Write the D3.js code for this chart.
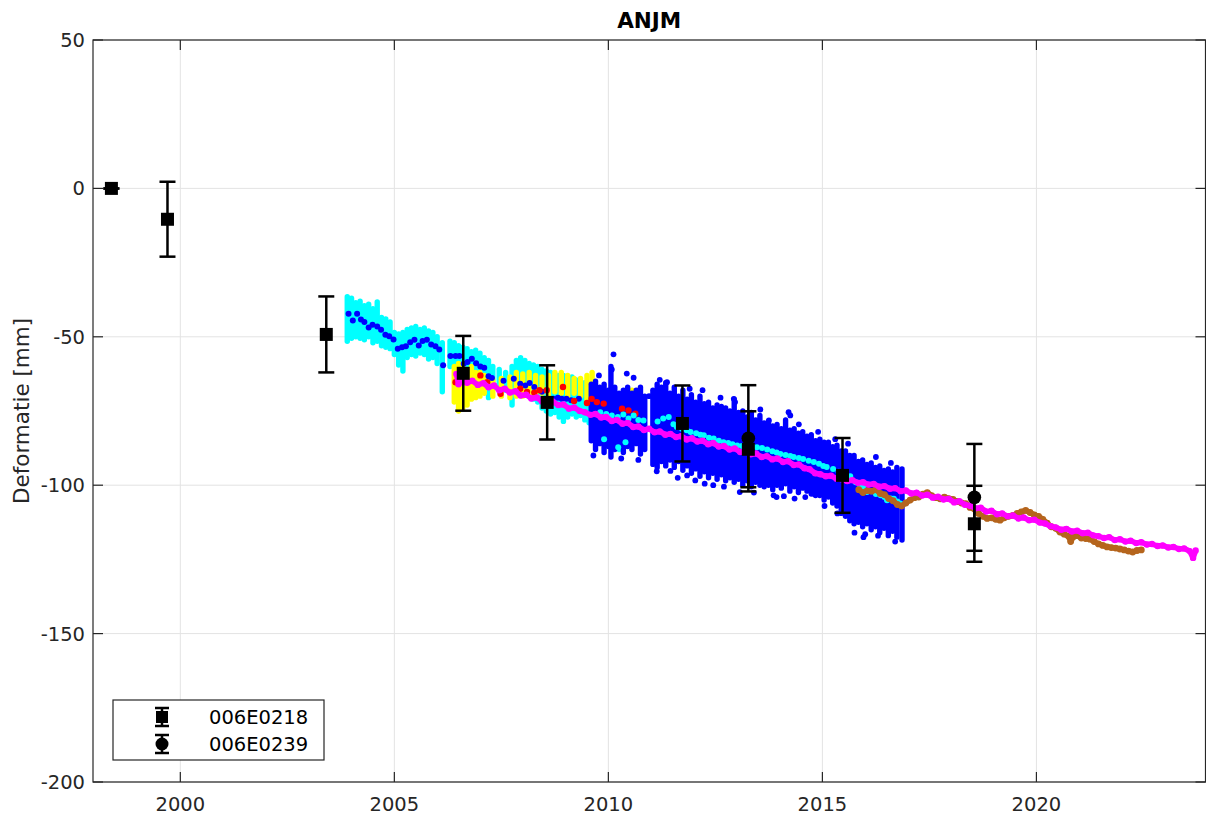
<!DOCTYPE html>
<html>
<head>
<meta charset="utf-8">
<script src="https://cdn.jsdelivr.net/npm/d3@7/dist/d3.min.js"></script>
<style>
  body { margin: 0; background: #fff; }
  text { font-family: "DejaVu Sans", sans-serif; }
</style>
</head>
<body>
<div id="chart"></div>
<script>
// Set the dimensions of the figure and the plot box
const width = 1206;
const height = 816;
const box = { left: 93, right: 1205.5, top: 40, bottom: 782 };

// Tick labels
const xTicks = [2000, 2005, 2010, 2015, 2020];
const yTicks = [50, 0, -50, -100, -150, -200];

// Levelling: 006E0218 (squares) and 006E0239 (circles) [year, mm, error]
const squares = [
  [1998.39, 0, 0], [1999.70, -10.4, 12.6], [2003.41, -49.2, 12.8], [2006.61, -62.3, 12.6],
  [2008.57, -72.1, 12.5], [2011.73, -79.2, 12.8], [2013.27, -87.9, 12.8], [2015.47, -96.7, 12.6],
  [2018.55, -113.0, 12.8]
];
const circles = [[2013.27, -84.2, 17.9], [2018.55, -104.1, 18.0]];
const legendNames = ["006E0218", "006E0239"];

// InSAR clouds, one column per acquisition [year, lowest, highest]
const cyanCols = [
  [2003.90, -51.5, -36.5], [2004.00, -50.5, -37], [2004.10, -50, -38.5], [2004.20, -50.5, -38],
  [2004.30, -51, -39.5], [2004.40, -50, -39], [2004.50, -52, -40.5], [2004.60, -51.5, -38.3],
  [2004.70, -53, -43.5], [2004.80, -53.5, -44], [2004.90, -54, -45], [2005.00, -56, -48.5],
  [2005.10, -59.5, -49], [2005.20, -61.5, -48.5], [2005.30, -57, -47.5], [2005.40, -56, -47],
  [2005.50, -56.5, -46.5], [2005.60, -55.5, -47.5], [2005.70, -56, -47], [2005.80, -57.5, -48],
  [2005.90, -57, -48.5], [2006.00, -59, -50], [2006.12, -68.5, -52],
  [2006.30, -60, -51.5], [2006.40, -60, -52], [2006.50, -61, -53], [2006.60, -62, -53.5],
  [2006.70, -63, -54], [2006.80, -62, -55], [2006.90, -63.5, -54.5], [2007.00, -64, -55.5],
  [2007.10, -65, -57], [2007.20, -70.5, -58], [2007.30, -66, -60], [2007.45, -67, -61],
  [2007.60, -68, -62], [2007.75, -73, -60], [2007.85, -69, -58], [2007.95, -69, -57],
  [2008.05, -68.5, -58], [2008.15, -70, -59], [2008.25, -71, -59.5], [2008.35, -72, -60],
  [2008.45, -74, -61], [2008.55, -75, -61.5], [2008.65, -76, -62], [2008.75, -75.5, -62.5],
  [2008.85, -77, -63], [2008.95, -78.5, -63], [2009.05, -77, -64], [2009.15, -76, -63.5],
  [2009.25, -77, -64.5], [2009.35, -76.5, -65], [2009.45, -78, -65.5], [2009.55, -79, -66],
  [2009.65, -80, -67], [2009.75, -82, -68], [2009.85, -83, -68.5], [2009.95, -84, -69],
  [2010.10, -86, -72], [2010.25, -88, -73], [2010.40, -87, -74]
];
const yellowCols = [
  [2006.40, -72, -60], [2006.50, -75, -59], [2006.60, -74, -60], [2006.70, -73, -61],
  [2006.80, -71, -60], [2006.90, -70.5, -62], [2007.00, -70, -62], [2007.10, -69, -63],
  [2007.30, -70, -64.5], [2007.50, -70, -64], [2007.70, -70.5, -63.5], [2007.85, -70, -62],
  [2008.00, -70, -62.5], [2008.15, -69.5, -62], [2008.30, -70, -63], [2008.45, -69, -63.5],
  [2008.60, -69.5, -63], [2008.75, -68.5, -62], [2008.90, -69, -62], [2009.05, -70, -63],
  [2009.20, -69, -64], [2009.35, -70, -64], [2009.50, -72, -63], [2009.62, -69, -62],
  [2010.30, -82.5, -69.5], [2010.45, -73, -68], [2010.55, -72, -68], [2010.70, -72, -68]
];
const blueCols = [
  [2009.60, -85, -66], [2009.70, -88, -65], [2009.80, -86, -67], [2009.90, -89, -66],
  [2010.00, -87, -68], [2010.06, -90.5, -60], [2010.15, -88, -67], [2010.25, -86, -69],
  [2010.35, -89, -68], [2010.45, -87, -67], [2010.55, -88, -69], [2010.65, -86, -68],
  [2010.75, -89.5, -67], [2010.85, -88, -70], [2011.04, -93, -68], [2011.14, -94, -66],
  [2011.24, -92, -67], [2011.34, -93.5, -65.5], [2011.44, -91.5, -69], [2011.54, -94, -67],
  [2011.64, -92, -70], [2011.74, -95, -68], [2011.84, -93.5, -71], [2011.94, -96, -69.5],
  [2012.04, -94.5, -72], [2012.14, -97, -70], [2012.24, -95.5, -72.5], [2012.34, -97.5, -72],
  [2012.44, -96, -74], [2012.54, -98, -73], [2012.64, -96.5, -73.5], [2012.74, -98.5, -74],
  [2012.84, -97.5, -75], [2012.94, -99, -71], [2013.04, -98, -75.5], [2013.14, -100, -75],
  [2013.24, -98.5, -77], [2013.34, -100.5, -75.5], [2013.44, -99, -78], [2013.54, -100, -76.5],
  [2013.64, -100.5, -79], [2013.74, -100, -78.5], [2013.84, -101.5, -80], [2013.94, -100, -79.5],
  [2014.04, -101, -81], [2014.14, -99.5, -78], [2014.24, -102, -81.5], [2014.34, -100.5, -81],
  [2014.44, -102.5, -82.5], [2014.54, -101, -82], [2014.64, -102, -83.5], [2014.74, -103, -83],
  [2014.84, -103.5, -85], [2014.94, -103.5, -84.5], [2015.04, -105, -85.5], [2015.14, -104, -85.5],
  [2015.24, -106, -87], [2015.34, -107, -86.5], [2015.44, -109.5, -88.5], [2015.54, -110.5, -88.5],
  [2015.64, -112, -90], [2015.74, -113, -90], [2015.84, -112.5, -92], [2015.94, -114, -91.5],
  [2016.04, -113, -93], [2016.14, -115, -92.5], [2016.24, -114, -94], [2016.34, -116, -93.5],
  [2016.44, -114.5, -95], [2016.54, -117, -94.5], [2016.64, -115.5, -95.5], [2016.74, -117.5, -94],
  [2016.86, -118.5, -94.5]
];

// Single points [year, mm]
const blueOutliers = [
  [2010.12, -55.9], [2010.08, -61.0], [2010.43, -62.4], [2010.59, -63.8], [2009.78, -63.0],
  [2011.37, -65.3], [2011.20, -64.5], [2011.13, -95.3], [2011.45, -95.2], [2011.84, -96.7],
  [2012.03, -98.4], [2012.93, -70.9], [2012.96, -72.0], [2013.86, -103.4], [2013.75, -78.2],
  [2014.21, -75.4], [2014.25, -76.5], [2014.80, -102.9], [2014.60, -104.0], [2015.96, -117.5],
  [2016.00, -116.5], [2013.93, -104.0], [2013.07, -102.3], [2014.10, -103.7], [2012.45, -100.0],
  [2009.65, -90.0], [2010.30, -91.0], [2010.70, -91.5], [2011.62, -97.5], [2012.25, -99.5],
  [2012.70, -100.5], [2013.40, -102.5], [2011.90, -67.5], [2012.20, -68.0], [2012.62, -70.5],
  [2013.55, -74.5], [2014.45, -79.5], [2014.90, -82.0], [2015.30, -84.5], [2015.60, -86.0],
  [2016.25, -90.5], [2016.60, -92.5], [2015.75, -116.0], [2016.30, -117.0], [2016.70, -119.0],
  [2014.35, -104.5], [2015.05, -107.0], [2015.35, -109.5], [2010.95, -70.0]
];
const blueDots = [
  [2003.93, -42.2], [2004.03, -44.5], [2004.13, -42.2], [2004.22, -44.2], [2004.30, -45.0],
  [2004.40, -46.9], [2004.49, -45.9], [2004.60, -46.5], [2004.69, -47.6], [2004.79, -49.3],
  [2004.88, -49.8], [2004.98, -50.9], [2005.08, -54.0], [2005.18, -53.5], [2005.27, -53.2],
  [2005.37, -51.8], [2005.47, -51.0], [2005.57, -52.9], [2005.66, -51.4], [2005.76, -51.0],
  [2005.86, -52.6], [2005.96, -53.2], [2006.05, -54.3], [2006.14, -59.6], [2006.31, -56.5],
  [2006.43, -56.5], [2006.52, -56.5], [2006.62, -59.1], [2006.71, -58.5], [2006.81, -57.4],
  [2006.91, -58.9], [2007.01, -60.0], [2007.10, -60.4], [2007.20, -63.3], [2007.28, -63.9],
  [2007.55, -64.8], [2007.79, -64.1], [2007.94, -65.8], [2008.06, -66.4], [2008.16, -65.6],
  [2008.27, -66.9], [2008.45, -68.5], [2008.72, -70.9], [2008.82, -70.5], [2008.91, -70.9],
  [2009.02, -70.9], [2009.13, -71.4], [2009.31, -70.9]
];
const redDots = [
  [2006.43, -65.3], [2006.55, -63.5], [2007.01, -63.0], [2007.17, -65.3], [2007.48, -69.2],
  [2007.94, -67.5], [2008.10, -68.6], [2008.27, -68.8], [2008.39, -68.0], [2008.56, -68.0],
  [2008.94, -66.9], [2009.20, -71.6], [2009.50, -72.3], [2009.61, -70.9], [2009.73, -72.0],
  [2009.89, -72.5], [2010.32, -74.2], [2010.47, -74.8], [2010.63, -75.9]
];
const cyanDots = [
  [2009.81, -75.4], [2009.95, -76.0], [2010.08, -76.5], [2010.22, -77.0], [2010.35, -76.2],
  [2010.47, -77.5], [2010.59, -76.5], [2010.70, -78.0], [2010.82, -78.2], [2011.15, -78.5],
  [2011.28, -77.5], [2011.41, -77.0], [2011.52, -79.5], [2011.60, -80.4], [2011.72, -81.0],
  [2011.83, -81.5], [2011.92, -82.1], [2012.05, -82.5], [2012.15, -83.0], [2012.23, -83.2],
  [2012.35, -84.0], [2012.46, -84.3], [2012.58, -85.0], [2012.69, -85.5], [2012.80, -85.8],
  [2012.90, -86.2], [2013.01, -86.6], [2013.12, -86.8], [2013.25, -87.0], [2013.36, -86.9],
  [2013.47, -87.2], [2013.59, -87.5], [2013.71, -88.0], [2013.83, -88.6], [2013.93, -89.0],
  [2014.02, -89.5], [2014.14, -89.8], [2014.25, -90.2], [2014.33, -90.5], [2014.45, -90.8],
  [2014.55, -91.2], [2014.68, -91.8], [2014.80, -92.2], [2014.92, -92.8], [2015.02, -93.5],
  [2015.10, -93.9], [2015.25, -94.5], [2015.38, -95.5], [2015.50, -96.5], [2015.57, -97.5],
  [2015.65, -97.0], [2015.78, -99.0], [2015.88, -100.0], [2015.96, -100.6], [2016.04, -102.3],
  [2016.15, -102.0], [2016.25, -103.0], [2016.36, -103.4], [2016.45, -104.0], [2016.51, -105.1],
  [2016.60, -104.5], [2016.67, -104.6], [2016.75, -105.5], [2016.82, -106.2],
  [2010.23, -87.2], [2010.40, -85.5], [2009.90, -84.5]
];
const brownDots = [
  [2015.85, -101.5], [2015.95, -102.5], [2016.05, -101.8], [2016.15, -102.0], [2016.25, -101.5],
  [2016.35, -102.8], [2016.45, -103.2], [2016.55, -104.5], [2016.65, -105.2], [2016.75, -106.5],
  [2016.85, -107.0], [2016.95, -106.0], [2017.05, -105.0], [2017.15, -104.2], [2017.25, -104.0],
  [2017.35, -103.0], [2017.45, -102.5], [2017.55, -103.5], [2017.65, -104.2], [2017.75, -104.6],
  [2017.85, -104.0], [2017.95, -104.5], [2018.05, -104.8], [2018.15, -105.5], [2018.25, -106.0],
  [2018.35, -106.2], [2018.45, -107.5], [2018.55, -108.0], [2018.65, -109.5], [2018.75, -110.5],
  [2018.85, -111.2], [2018.95, -111.0], [2019.05, -111.5], [2019.15, -111.8], [2019.25, -111.0],
  [2019.35, -110.5], [2019.45, -110.2], [2019.55, -109.5], [2019.65, -109.0], [2019.75, -108.5],
  [2019.85, -109.2], [2019.95, -110.0], [2020.05, -110.5], [2020.15, -111.5], [2020.25, -112.8],
  [2020.35, -114.0], [2020.45, -114.5], [2020.55, -115.8], [2020.65, -116.5], [2020.75, -117.2],
  [2020.80, -119.0], [2020.85, -117.5], [2020.95, -117.0], [2021.05, -117.8], [2021.15, -118.0],
  [2021.25, -118.2], [2021.35, -119.0], [2021.45, -119.8], [2021.55, -120.3], [2021.65, -120.8],
  [2021.75, -121.0], [2021.85, -121.2], [2021.95, -121.5], [2022.05, -121.8], [2022.15, -122.2],
  [2022.25, -122.5], [2022.35, -122.0], [2022.45, -121.8]
];
const magentaDots = [
  [2006.45, -62.5], [2006.50, -66.0], [2006.58, -64.5], [2006.70, -65.5], [2006.82, -64.8],
  [2006.95, -66.2], [2007.08, -65.6], [2007.20, -67.0], [2007.33, -66.4], [2007.45, -68.0],
  [2007.58, -67.5], [2007.70, -68.8], [2007.83, -68.3], [2007.95, -69.8], [2008.08, -69.5],
  [2008.20, -70.8], [2008.33, -70.4], [2008.45, -71.8], [2008.58, -72.2], [2008.70, -71.8],
  [2008.83, -73.0], [2008.95, -72.8], [2009.08, -74.2], [2009.20, -73.8], [2009.33, -75.0],
  [2009.45, -75.4], [2009.58, -76.3], [2009.70, -76.0], [2009.83, -77.2], [2009.95, -77.0],
  [2010.08, -78.4], [2010.20, -78.0], [2010.33, -79.3], [2010.45, -79.0], [2010.58, -80.4],
  [2010.70, -80.2], [2010.83, -81.4], [2010.95, -81.0], [2011.08, -82.2], [2011.20, -81.9],
  [2011.33, -83.0], [2011.45, -82.7], [2011.58, -83.8], [2011.70, -83.5], [2011.83, -84.6],
  [2011.95, -84.2], [2012.08, -85.3], [2012.20, -85.0], [2012.33, -86.2], [2012.45, -85.8],
  [2012.58, -87.0], [2012.70, -86.8], [2012.83, -88.0], [2012.95, -87.6], [2013.08, -88.8],
  [2013.20, -88.5], [2013.33, -89.6], [2013.45, -89.3], [2013.58, -90.5], [2013.70, -90.2],
  [2013.83, -91.3], [2013.95, -91.0], [2014.08, -92.2], [2014.20, -91.9], [2014.33, -93.2],
  [2014.45, -93.0], [2014.58, -94.3], [2014.70, -94.6], [2014.83, -96.0], [2014.95, -96.3],
  [2015.08, -97.0], [2015.20, -96.8], [2015.33, -97.8], [2015.45, -98.0], [2015.58, -98.6],
  [2015.70, -98.3], [2015.83, -99.2], [2015.95, -99.0], [2016.08, -99.8], [2016.20, -99.6],
  [2016.33, -100.5], [2016.45, -100.3], [2016.58, -101.2], [2016.70, -101.0], [2016.83, -102.0],
  [2016.95, -101.8], [2017.08, -102.8], [2017.20, -102.5], [2017.33, -103.5], [2017.45, -103.2],
  [2017.58, -104.2], [2017.70, -103.9], [2017.83, -104.8], [2017.95, -104.6], [2018.08, -105.8],
  [2018.20, -105.4], [2018.33, -106.6], [2018.45, -106.9], [2018.58, -107.8], [2018.70, -107.6],
  [2018.83, -108.9], [2018.95, -108.6], [2019.08, -109.8], [2019.20, -109.5], [2019.33, -110.5],
  [2019.45, -110.2], [2019.58, -111.2], [2019.70, -110.9], [2019.83, -111.8], [2019.95, -111.6],
  [2020.08, -112.6], [2020.20, -112.9], [2020.33, -113.8], [2020.45, -114.2], [2020.58, -115.0],
  [2020.70, -114.7], [2020.83, -115.6], [2020.95, -115.3], [2021.08, -116.2], [2021.20, -116.0],
  [2021.33, -116.9], [2021.45, -117.2], [2021.58, -117.8], [2021.70, -117.5], [2021.83, -118.5],
  [2021.95, -118.2], [2022.08, -119.0], [2022.20, -118.7], [2022.33, -119.5], [2022.45, -119.2],
  [2022.58, -120.0], [2022.70, -119.8], [2022.83, -120.5], [2022.95, -120.3], [2023.08, -121.0],
  [2023.20, -120.8], [2023.33, -121.5], [2023.45, -121.3], [2023.58, -122.2], [2023.66, -124.5],
  [2023.72, -122.0]
];

// Scales
const x = d3.scaleLinear().domain([1997.96, 2023.95]).range([box.left, box.right]);
const y = d3.scaleLinear().domain([-200, 50]).range([box.bottom, box.top]);

const svg = d3.select("#chart")
  .append("svg")
  .attr("width", width)
  .attr("height", height);

svg.append("rect").attr("width", width).attr("height", height).attr("fill", "#fff");

svg.append("clipPath").attr("id", "clip")
  .append("rect")
  .attr("x", box.left).attr("y", box.top)
  .attr("width", box.right - box.left).attr("height", box.bottom - box.top);

// grid lines
const grid = svg.append("g").attr("stroke", "#e3e3e3").attr("stroke-width", 1);
grid.selectAll(".gx").data(xTicks).enter().append("line")
  .attr("x1", d => x(d)).attr("x2", d => x(d))
  .attr("y1", box.top).attr("y2", box.bottom);
grid.selectAll(".gy").data(yTicks).enter().append("line")
  .attr("x1", box.left).attr("x2", box.right)
  .attr("y1", d => y(d)).attr("y2", d => y(d));

const plot = svg.append("g").attr("clip-path", "url(#clip)");

// draw a cloud as stacked columns of dots
function drawCols(data, color) {
  plot.append("g").selectAll("line")
    .data(data)
    .enter()
    .append("line")
    .attr("x1", d => x(d[0])).attr("x2", d => x(d[0]))
    .attr("y1", d => y(d[1])).attr("y2", d => y(d[2]))
    .attr("stroke", color)
    .attr("stroke-width", 5.4)
    .attr("stroke-linecap", "round");
}

// draw single dots
function drawDots(data, color, r) {
  plot.append("g").selectAll("circle")
    .data(data)
    .enter()
    .append("circle")
    .attr("cx", d => x(d[0]))
    .attr("cy", d => y(d[1]))
    .attr("r", r)
    .attr("fill", color);
}

// draw a dense time series as a jagged band of dots
function drawBand(data, color, r, w) {
  plot.append("path")
    .datum(data)
    .attr("d", d3.line().x(d => x(d[0])).y(d => y(d[1])))
    .attr("fill", "none")
    .attr("stroke", color)
    .attr("stroke-width", w)
    .attr("stroke-linejoin", "round");
  drawDots(data, color, r);
}

drawCols(cyanCols, "#00ffff");
drawCols(yellowCols, "#ffff00");
drawCols(blueCols, "#0000ff");
drawDots(blueOutliers, "#0000ff", 2.9);
drawDots(blueDots, "#0000ff", 3);
drawDots(redDots, "#ff0000", 3.2);
drawDots(cyanDots, "#00ffff", 3);
drawBand(brownDots, "#b5651d", 3.4, 5.5);
drawBand(magentaDots, "#ff00ff", 3.2, 5.5);

// error bars with markers
function drawErr(data, shape) {
  const g = plot.append("g").attr("stroke", "#000").attr("stroke-width", 2.5);
  data.forEach(function(d) {
    const cx = x(d[0]);
    const top = y(d[1] + d[2]);
    const bot = y(d[1] - d[2]);
    g.append("line").attr("x1", cx).attr("x2", cx).attr("y1", top).attr("y2", bot);
    g.append("line").attr("x1", cx - 8).attr("x2", cx + 8).attr("y1", top).attr("y2", top);
    g.append("line").attr("x1", cx - 8).attr("x2", cx + 8).attr("y1", bot).attr("y2", bot);
    if (shape === "square") {
      g.append("rect").attr("x", cx - 6.5).attr("y", y(d[1]) - 6.5)
        .attr("width", 13).attr("height", 13).attr("fill", "#000").attr("stroke", "none");
    } else {
      g.append("circle").attr("cx", cx).attr("cy", y(d[1])).attr("r", 6.8)
        .attr("fill", "#000").attr("stroke", "none");
    }
  });
}
drawErr(squares, "square");
drawErr(circles, "circle");

// axes box with inward ticks
const axisColor = "#262626";
svg.append("rect")
  .attr("x", box.left).attr("y", box.top)
  .attr("width", box.right - box.left).attr("height", box.bottom - box.top)
  .attr("fill", "none").attr("stroke", axisColor).attr("stroke-width", 1.2);

const ticks = svg.append("g").attr("stroke", axisColor).attr("stroke-width", 1.2);
xTicks.forEach(function(t) {
  ticks.append("line").attr("x1", x(t)).attr("x2", x(t)).attr("y1", box.bottom).attr("y2", box.bottom - 10);
  ticks.append("line").attr("x1", x(t)).attr("x2", x(t)).attr("y1", box.top).attr("y2", box.top + 10);
});
yTicks.forEach(function(t) {
  ticks.append("line").attr("x1", box.left).attr("x2", box.left + 10).attr("y1", y(t)).attr("y2", y(t));
  ticks.append("line").attr("x1", box.right).attr("x2", box.right - 10).attr("y1", y(t)).attr("y2", y(t));
});

// tick labels
svg.selectAll(".xlab").data(xTicks).enter().append("text")
  .attr("x", d => x(d)).attr("y", 811)
  .attr("text-anchor", "middle")
  .style("font-size", "19.5px").style("fill", axisColor)
  .text(d => d);
svg.selectAll(".ylab").data(yTicks).enter().append("text")
  .attr("x", 85).attr("y", d => y(d) + 7)
  .attr("text-anchor", "end")
  .style("font-size", "19.5px").style("fill", axisColor)
  .text(d => d);

// axis title and chart title
svg.append("text")
  .attr("transform", "translate(29," + ((box.top + box.bottom) / 2) + ") rotate(-90)")
  .attr("text-anchor", "middle")
  .style("font-size", "21.5px").style("fill", axisColor)
  .text("Deformatie [mm]");

svg.append("text")
  .attr("x", (box.left + box.right) / 2).attr("y", 28)
  .attr("text-anchor", "middle")
  .style("font-size", "21.5px").style("font-weight", "bold").style("fill", "#000")
  .text("ANJM");

// legend
const legend = svg.append("g");
legend.append("rect")
  .attr("x", 113).attr("y", 700).attr("width", 211).attr("height", 60)
  .attr("fill", "#fff").attr("stroke", axisColor).attr("stroke-width", 1.2);

const rows = legend.selectAll(".legend")
  .data(legendNames)
  .enter()
  .append("g")
  .attr("class", "legend")
  .attr("transform", (d, i) => "translate(162," + (717 + i * 27) + ")");

rows.append("line").attr("x1", 0).attr("x2", 0).attr("y1", -9).attr("y2", 9)
  .attr("stroke", "#000").attr("stroke-width", 2.5);
rows.append("line").attr("x1", -7).attr("x2", 7).attr("y1", -9).attr("y2", -9)
  .attr("stroke", "#000").attr("stroke-width", 2.5);
rows.append("line").attr("x1", -7).attr("x2", 7).attr("y1", 9).attr("y2", 9)
  .attr("stroke", "#000").attr("stroke-width", 2.5);
rows.filter((d, i) => i === 0).append("rect")
  .attr("x", -6).attr("y", -6).attr("width", 12).attr("height", 12).attr("fill", "#000");
rows.filter((d, i) => i === 1).append("circle")
  .attr("r", 6.5).attr("fill", "#000");
rows.append("text")
  .attr("x", 47).attr("y", 7)
  .style("font-size", "19.5px").style("fill", "#000")
  .text(d => d);
</script>
</body>
</html>
